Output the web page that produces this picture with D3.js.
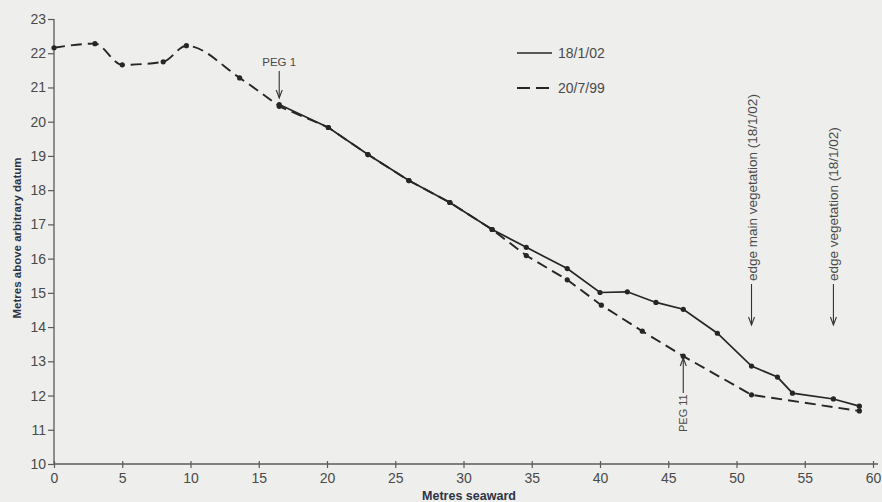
<!DOCTYPE html>
<html>
<head>
<meta charset="utf-8">
<script src="https://cdn.jsdelivr.net/npm/d3@7"></script>
<style>
  html, body { margin: 0; padding: 0; background: #eeeeec; }
  svg { display: block; font-family: "Liberation Sans", Arial, sans-serif; }
</style>
</head>
<body>
<script>
// Data (metres seaward vs metres above arbitrary datum)
const x2002 = [16.5, 20.1, 23.0, 26.0, 29.0, 32.1, 34.6, 37.6, 40.0, 42.0, 44.1, 46.1, 48.6, 51.1, 53.0, 54.1, 57.1, 59.0];
const y2002 = [20.5, 19.83, 19.04, 18.28, 17.64, 16.85, 16.33, 15.71, 15.01, 15.03, 14.72, 14.52, 13.82, 12.86, 12.54, 12.07, 11.9, 11.69];
const x1999 = [0, 3.0, 5.0, 8.0, 9.7, 13.6, 16.5, 20.1, 23.0, 26.0, 29.0, 32.1, 34.6, 37.6, 40.1, 43.1, 46.1, 51.1, 59.0];
const y1999 = [22.16, 22.28, 21.66, 21.75, 22.22, 21.28, 20.45, 19.83, 19.04, 18.28, 17.64, 16.85, 16.09, 15.38, 14.64, 13.88, 13.15, 12.02, 11.55];
const xTicks = [0, 5, 10, 15, 20, 25, 30, 35, 40, 45, 50, 55, 60];
const yTicks = [10, 11, 12, 13, 14, 15, 16, 17, 18, 19, 20, 21, 22, 23];
const seriesNames = ["18/1/02", "20/7/99"];

const W = 882, H = 502;
const svg = d3.select("body").append("svg").attr("width", W).attr("height", H);
svg.append("rect").attr("width", W).attr("height", H).attr("fill", "#eeeeec");

const x = d3.scaleLinear().domain([0, 60]).range([54, 873]);
const y = d3.scaleLinear().domain([10, 23]).range([464, 19]);

const axisColor = "#5a5a5a";
const textColor = "#4a4a4a";

// Y axis
const gy = svg.append("g").attr("transform", "translate(54,0)")
  .call(d3.axisLeft(y).tickValues(yTicks).tickSize(6).tickPadding(2).tickFormat(d3.format("d")));
gy.select(".domain").attr("stroke", axisColor).attr("stroke-width", 1.3).attr("d", `M0,${y(23)}V${y(10)}`);
gy.selectAll(".tick line").attr("stroke", axisColor).attr("stroke-width", 1.2);
gy.selectAll(".tick text").attr("fill", textColor).attr("font-size", 14).attr("font-family", "Liberation Sans, Arial, sans-serif");

// X axis
const gx = svg.append("g").attr("transform", "translate(0,464)")
  .call(d3.axisBottom(x).tickValues(xTicks).tickSize(4).tickPadding(5).tickFormat(d3.format("d")));
gx.select(".domain").attr("stroke", axisColor).attr("stroke-width", 1.3).attr("d", `M${x(0)},0H${x(60)+5}`);
gx.selectAll(".tick line").attr("stroke", axisColor).attr("stroke-width", 1.2).attr("y1", -3);
gx.selectAll(".tick text").attr("fill", textColor).attr("font-size", 14).attr("font-family", "Liberation Sans, Arial, sans-serif");

// Axis titles
svg.append("text").attr("x", 469).attr("y", 500).attr("text-anchor", "middle")
  .attr("font-size", 12.5).attr("font-weight", "bold").attr("fill", "#2e3446").text("Metres seaward");
svg.append("text").attr("transform", `translate(21,238) rotate(-90)`).attr("text-anchor", "middle")
  .attr("font-size", 11.5).attr("font-weight", "bold").attr("fill", "#2e3446").text("Metres above arbitrary datum");

const lineSmooth = d3.line().curve(d3.curveMonotoneX).x(d => x(d[0])).y(d => y(d[1]));
const line = d3.line().x(d => x(d[0])).y(d => y(d[1]));
const d1999 = x1999.map((v, i) => [v, y1999[i]]);
const d2002 = x2002.map((v, i) => [v, y2002[i]]);
const lineColor = "#262626";

// dashed series: smooth over the dune crest, straight further seaward
const split = 6;
const pathA = svg.append("path").datum(d1999.slice(0, split + 1)).attr("d", lineSmooth).attr("fill", "none")
  .attr("stroke", lineColor).attr("stroke-width", 1.9).attr("stroke-dasharray", "11,6");
const lenA = pathA.node().getTotalLength();
svg.append("path").datum(d1999.slice(split)).attr("d", line).attr("fill", "none")
  .attr("stroke", lineColor).attr("stroke-width", 1.9).attr("stroke-dasharray", "11,6")
  .attr("stroke-dashoffset", lenA % 17);
svg.append("path").datum(d2002).attr("d", line).attr("fill", "none")
  .attr("stroke", lineColor).attr("stroke-width", 1.7);

svg.append("g").selectAll("circle").data(d1999.concat(d2002)).join("circle")
  .attr("cx", d => x(d[0])).attr("cy", d => y(d[1])).attr("r", 2.6).attr("fill", lineColor);

// Legend
const lg = svg.append("g");
lg.append("line").attr("x1", 517).attr("x2", 552).attr("y1", 53).attr("y2", 53)
  .attr("stroke", lineColor).attr("stroke-width", 1.6);
lg.append("line").attr("x1", 517).attr("x2", 552).attr("y1", 88).attr("y2", 88)
  .attr("stroke", lineColor).attr("stroke-width", 1.8).attr("stroke-dasharray", "13,6");
lg.append("text").attr("x", 558).attr("y", 58).attr("font-size", 14).attr("fill", textColor).text(seriesNames[0]);
lg.append("text").attr("x", 558).attr("y", 93).attr("font-size", 14).attr("fill", textColor).text(seriesNames[1]);

// Annotations
const ann = svg.append("g").attr("fill", textColor);
function arrow(xp, y1, y2) {
  ann.append("line").attr("x1", xp).attr("x2", xp).attr("y1", y1).attr("y2", y2)
    .attr("stroke", "#333").attr("stroke-width", 1.1);
  const dir = y2 > y1 ? 1 : -1;
  ann.append("path").attr("d", `M${xp-3},${y2-dir*8}L${xp},${y2}L${xp+3},${y2-dir*8}`)
    .attr("fill", "none").attr("stroke", "#333").attr("stroke-width", 1.1);
}
ann.append("text").attr("x", x(16.5)).attr("y", 66).attr("text-anchor", "middle")
  .attr("font-size", 11.5).text("PEG 1");
arrow(x(16.5), 71, 98);

ann.append("text").attr("transform", `translate(${x(46.1)+4},432) rotate(-90)`)
  .attr("font-size", 11).text("PEG 11");
arrow(x(46.1), 393, 358);

ann.append("text").attr("transform", `translate(${x(51.1)+5},281) rotate(-90)`)
  .attr("font-size", 13.5).text("edge main vegetation (18/1/02)");
arrow(x(51.1), 284, 325);

ann.append("text").attr("transform", `translate(${x(57.1)+5},281) rotate(-90)`)
  .attr("font-size", 13.5).text("edge vegetation (18/1/02)");
arrow(x(57.1), 284, 325);
</script>
</body>
</html>
